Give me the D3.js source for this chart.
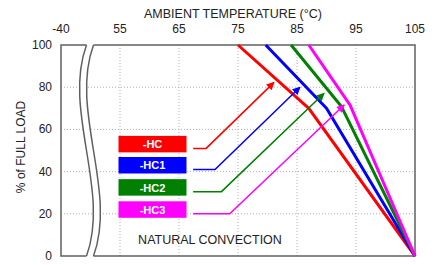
<!DOCTYPE html>
<html>
<head>
<meta charset="utf-8">
<script src="https://cdn.jsdelivr.net/npm/d3@7"></script>
<style>
  body { margin: 0; background: #fff; }
  svg { display: block; font-family: "Liberation Sans", Arial, sans-serif; }
  .grid line { stroke: #b0b0b0; stroke-width: 1; stroke-dasharray: 1,2; }
  .tick-label { font-size: 12px; fill: #222; }
</style>
</head>
<body>
<svg id="chart" width="438" height="265"></svg>
<script>
/*
  Derating chart: % of full load vs ambient temperature
  x axis is broken between -40 and 55
*/

// Axis ticks
const xTicks = [-40, 55, 65, 75, 85, 95, 105];
const yTicks = [0, 20, 40, 60, 80, 100];

// Series (derating curves)
const models = ['-HC', '-HC1', '-HC2', '-HC3'];
const colors = ['#ff0000', '#0000ff', '#008000', '#ff00ff'];
const curveTemps = [
  [75, 87, 105],
  [79.7, 90, 105],
  [84, 92.5, 105],
  [87, 94, 105]
];
const curveLoads = [
  [100, 70, 0],
  [100, 70, 0],
  [100, 71, 0],
  [100, 71.5, 0]
];

// Callout arrows from legend boxes to the curves
const calloutStartTemp = 67.4;
const calloutLoads = [51, 41, 30.5, 20];
const calloutCornerTemps = [69.6, 71.1, 72.2, 73.6];
const calloutTipTemps = [81.1, 85.5, 89.6, 93];
const calloutTipLoads = [82.3, 80, 77.1, 71.6];

const title = 'AMBIENT TEMPERATURE (\u00B0C)';
const yTitle = '% of FULL LOAD';
const note = 'NATURAL CONVECTION';

const plot = { left: 61, right: 415, top: 45, bottom: 256 };

/**
 * Scales: piecewise linear x so that -40 sits at the left edge, then the break
 */
const scale = {};
scale.x = d3.scaleLinear()
  .domain([-40, 55, 105])
  .range([plot.left, 120, plot.right]);
scale.y = d3.scaleLinear()
  .domain([0, 100])
  .range([plot.bottom, plot.top]);

const dom = {};
dom.svg = d3.select('#chart');

dom.svg.append('defs').selectAll('marker')
  .data(colors)
  .enter()
  .append('marker')
  .attr('id', (c, i) => `arrow${i}`)
  .attr('viewBox', '0 0 10 10')
  .attr('refX', 9)
  .attr('refY', 5)
  .attr('markerUnits', 'userSpaceOnUse')
  .attr('markerWidth', 10)
  .attr('markerHeight', 8)
  .attr('orient', 'auto')
  .append('path')
  .attr('d', 'M0,0 L10,5 L0,10 Z')
  .attr('fill', c => c);

/*
 * Grid
 */
dom.grid = dom.svg.append('g').attr('class', 'grid');

dom.grid.selectAll('.vgrid')
  .data(xTicks.filter(t => t > -40 && t < 105))
  .enter()
  .append('line')
  .attr('x1', d => scale.x(d))
  .attr('x2', d => scale.x(d))
  .attr('y1', plot.top)
  .attr('y2', plot.bottom);

dom.grid.selectAll('.hgrid')
  .data(yTicks.filter(t => t > 0 && t < 100))
  .enter()
  .append('line')
  .attr('x1', plot.left)
  .attr('x2', plot.right)
  .attr('y1', d => scale.y(d))
  .attr('y2', d => scale.y(d));

/*
 * Frame
 */
dom.svg.append('rect')
  .attr('x', plot.left)
  .attr('y', plot.top)
  .attr('width', plot.right - plot.left)
  .attr('height', plot.bottom - plot.top)
  .attr('fill', 'none')
  .attr('stroke', '#606060')
  .attr('stroke-width', 1.5);

/*
 * Axis break: two wavy lines with white between them
 */
const breakX = (scale.x(-40) + scale.x(55)) / 2 - 0.5;
const gap = 7;
const wave = 24;

function breakCurve(x0, reverse) {
  const t = plot.top, b = plot.bottom, h = b - t;
  if (!reverse) {
    return `M${x0},${t} C${x0 - wave},${t + h * 0.31} ${x0 + wave},${t + h * 0.69} ${x0},${b}`;
  }
  return `L${x0},${b} C${x0 + wave},${t + h * 0.69} ${x0 - wave},${t + h * 0.31} ${x0},${t}`;
}

const x1 = breakX - gap / 2;
const x2 = breakX + gap / 2;

dom.svg.append('path')
  .attr('d', `M${x1},${plot.top - 2} L${x1},${plot.top} ` +
    breakCurve(x1, false).replace(/^M[^C]+/, '') +
    ` L${x1},${plot.bottom + 2} L${x2},${plot.bottom + 2} ` +
    breakCurve(x2, true) + ` L${x2},${plot.top - 2} Z`)
  .attr('fill', '#fff')
  .attr('stroke', 'none');

[x1, x2].forEach(x0 => {
  dom.svg.append('path')
    .attr('d', breakCurve(x0, false))
    .attr('fill', 'none')
    .attr('stroke', '#606060')
    .attr('stroke-width', 1.5);
});

/*
 * Axis labels
 */
dom.svg.append('g').selectAll('text')
  .data(xTicks)
  .enter()
  .append('text')
  .attr('class', 'tick-label')
  .attr('x', d => scale.x(d))
  .attr('y', 33)
  .attr('text-anchor', 'middle')
  .text(d => d);

dom.svg.append('g').selectAll('text')
  .data(yTicks)
  .enter()
  .append('text')
  .attr('class', 'tick-label')
  .attr('x', 52)
  .attr('y', d => scale.y(d) + 4)
  .attr('text-anchor', 'end')
  .text(d => d);

dom.svg.append('text')
  .attr('x', 233)
  .attr('y', 18)
  .attr('text-anchor', 'middle')
  .style('font-size', '12.5px')
  .style('fill', '#222')
  .text(title);

dom.svg.append('text')
  .attr('transform', 'translate(25,147) rotate(-90)')
  .attr('text-anchor', 'middle')
  .style('font-size', '12px')
  .style('fill', '#222')
  .text(yTitle);

dom.svg.append('text')
  .attr('x', 210)
  .attr('y', 244)
  .attr('text-anchor', 'middle')
  .style('font-size', '12.5px')
  .style('fill', '#222')
  .text(note);

/*
 * Curves
 */
const line = d3.line()
  .x(d => scale.x(d[0]))
  .y(d => scale.y(d[1]));

dom.curves = dom.svg.append('g');
dom.curves.selectAll('path')
  .data(models)
  .enter()
  .append('path')
  .attr('d', (m, i) => line(curveTemps[i].map((t, j) => [t, curveLoads[i][j]])))
  .attr('fill', 'none')
  .attr('stroke', (m, i) => colors[i])
  .attr('stroke-width', 3)
  .attr('stroke-linejoin', 'round');

/*
 * Legend boxes and callouts
 */
dom.legend = dom.svg.append('g');

const legendItems = dom.legend.selectAll('g')
  .data(models)
  .enter()
  .append('g');

legendItems.append('rect')
  .attr('x', scale.x(55) - 1.5)
  .attr('y', (m, i) => scale.y(calloutLoads[i]) - 12.5)
  .attr('width', 68)
  .attr('height', 16.5)
  .attr('fill', (m, i) => colors[i]);

legendItems.append('text')
  .attr('x', scale.x(55) + 32.5)
  .attr('y', (m, i) => scale.y(calloutLoads[i]) + 0)
  .attr('text-anchor', 'middle')
  .style('font-size', '11px')
  .style('font-weight', 'bold')
  .style('fill', '#fff')
  .text(m => m);

legendItems.append('path')
  .attr('d', (m, i) => line([
    [calloutStartTemp, calloutLoads[i]],
    [calloutCornerTemps[i], calloutLoads[i]],
    [calloutTipTemps[i], calloutTipLoads[i]]
  ]))
  .attr('fill', 'none')
  .attr('stroke', (m, i) => colors[i])
  .attr('stroke-width', 1.5)
  .attr('marker-end', (m, i) => `url(#arrow${i})`);
</script>
</body>
</html>
